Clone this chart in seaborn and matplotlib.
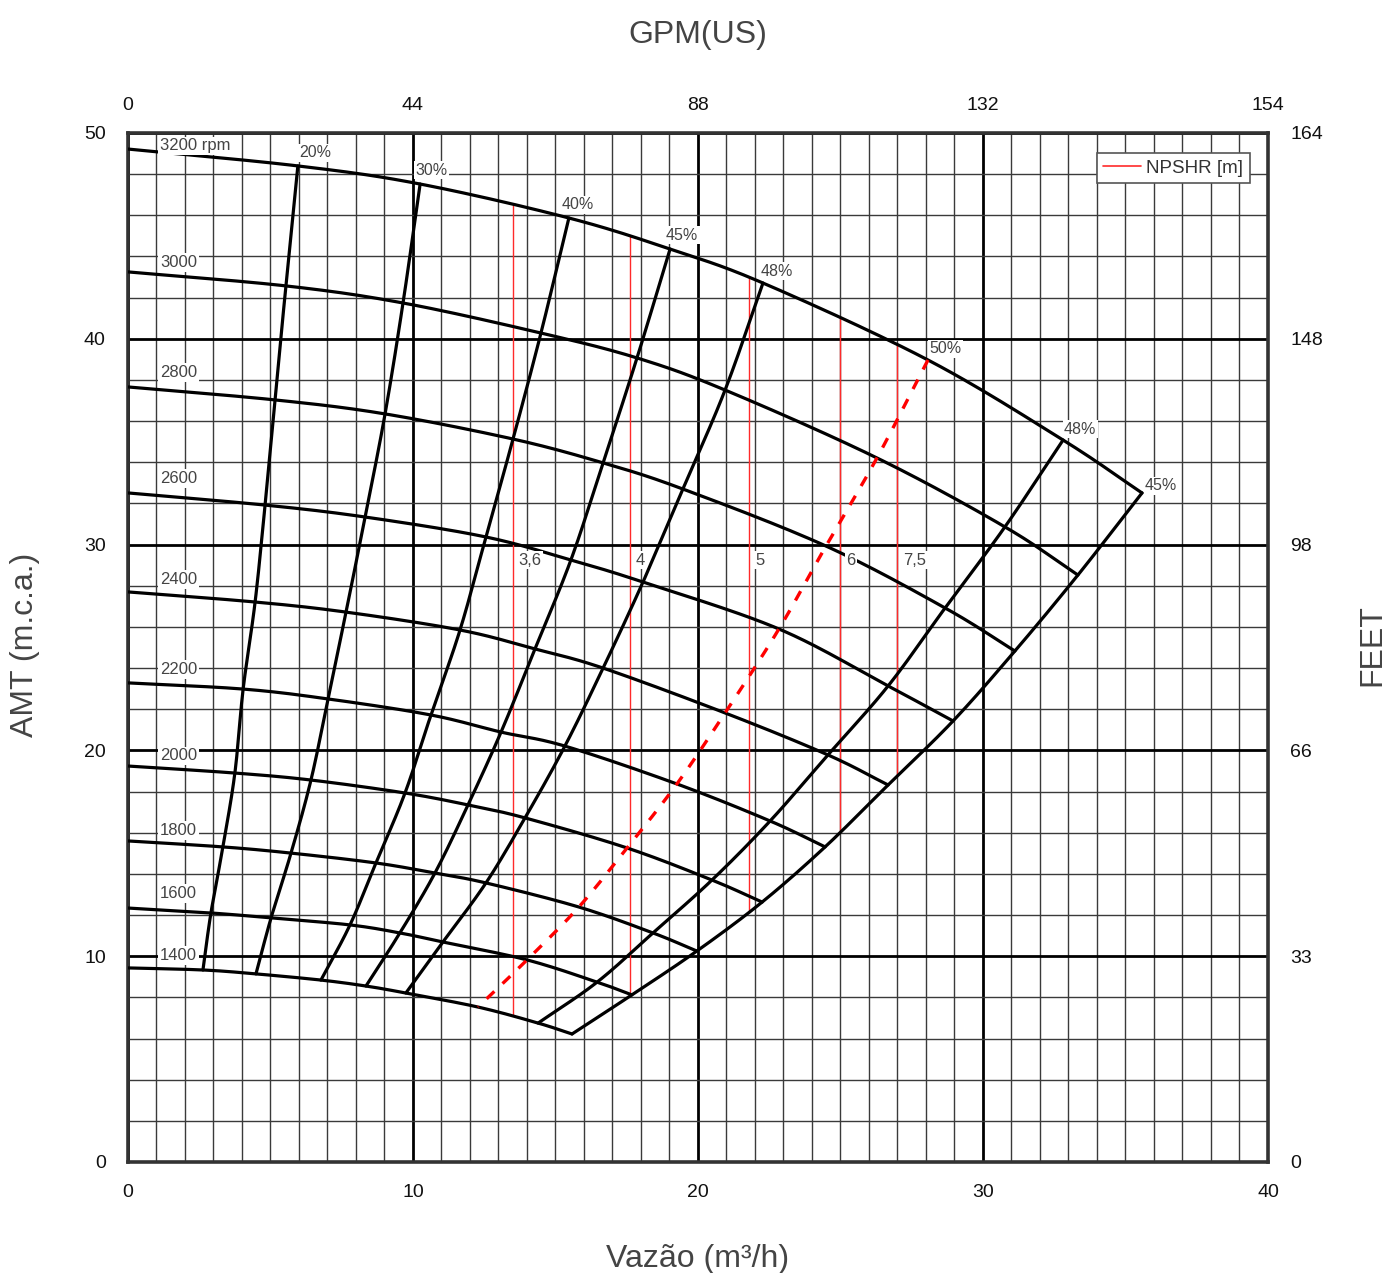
import numpy as np
import pandas as pd
import matplotlib
matplotlib.use("Agg")
import matplotlib.pyplot as plt
from matplotlib.lines import Line2D
from matplotlib.ticker import MultipleLocator
import seaborn as sns

# ---------------- data ----------------
speeds = ["3200 rpm", "3000", "2800", "2600", "2400", "2200", "2000", "1800", "1600", "1400"]

# efficiency lines crossing the speed curves (column 0 = shut-off point)
eff_labels = ["20%", "30%", "40%", "45%", "48%", "50%", "48%", "45%"]

# flow (m3/h) of each speed curve at shut-off and at every efficiency line
flow_pts = [
    [0, 5.96, 10.25, 15.47, 19.02, 22.28, 28.07, 32.81, 35.58],
    [0, 5.54, 9.65, 14.49, 17.86, 20.95, 26.28, 30.77, 33.33],
    [0, 5.16, 9.02, 13.51, 16.67, 19.47, 24.49, 28.67, 31.12],
    [0, 4.81, 8.32, 12.56, 15.54, 18.07, 22.84, 26.67, 28.95],
    [0, 4.46, 7.65, 11.65, 14.28, 16.67, 20.95, 24.56, 26.67],
    [0, 4.04, 7.02, 10.63, 13.09, 15.33, 19.26, 22.53, 24.46],
    [0, 3.75, 6.42, 9.72, 11.93, 13.93, 17.51, 20.49, 22.25],
    [0, 3.33, 5.72, 8.70, 10.77, 12.56, 15.82, 18.42, 19.96],
    [0, 2.91, 5.02, 7.79, 9.54, 11.05, 14.00, 16.46, 17.68],
    [0, 2.63, 4.49, 6.77, 8.35, 9.75, 12.28, 14.39, 15.58],
]
# head (m) at the same points
head_pts = [
    [49.22, 48.40, 47.52, 45.87, 44.36, 42.71, 38.97, 35.08, 32.51],
    [43.25, 42.57, 41.74, 40.28, 39.07, 37.51, 34.21, 30.86, 28.52],
    [37.66, 37.03, 36.35, 35.13, 33.97, 32.70, 29.93, 26.92, 24.83],
    [32.51, 31.92, 31.34, 30.37, 29.25, 28.18, 25.90, 23.13, 21.43],
    [27.70, 27.21, 26.72, 25.85, 24.93, 24.00, 21.82, 19.78, 18.32],
    [23.28, 22.98, 22.50, 21.72, 20.89, 20.21, 18.37, 16.57, 15.31],
    [19.24, 18.90, 18.56, 17.93, 17.35, 16.72, 15.26, 13.70, 12.63],
    [15.60, 15.31, 15.01, 14.53, 14.04, 13.56, 12.39, 11.13, 10.25],
    [12.34, 12.10, 11.86, 11.52, 11.13, 10.69, 9.82, 8.74, 8.12],
    [9.43, 9.33, 9.14, 8.84, 8.55, 8.21, 7.53, 6.75, 6.22],
]

npshr_flow = [13.5, 17.6, 21.8, 25.0, 27.0]
npshr_labels = ["3,6", "4", "5", "6", "7,5"]

x_ticks = [0, 10, 20, 30, 40]
y_ticks = [0, 10, 20, 30, 40, 50]
gpm_labels = ["0", "44", "88", "132", "154"]
feet_labels = ["0", "33", "66", "98", "148", "164"]

# ---------------- helpers ----------------
def smooth(xs, ys, n=24):
    """Catmull-Rom curve through the given points."""
    P = np.column_stack([xs, ys]).astype(float)
    P = np.vstack([2 * P[0] - P[1], P, 2 * P[-1] - P[-2]])
    t = np.linspace(0, 1, n, endpoint=False)[:, None]
    segs = []
    for i in range(1, len(P) - 2):
        p0, p1, p2, p3 = P[i - 1], P[i], P[i + 1], P[i + 2]
        segs.append(0.5 * (2 * p1 + (p2 - p0) * t
                           + (2 * p0 - 5 * p1 + 4 * p2 - p3) * t ** 2
                           + (-p0 + 3 * p1 - 3 * p2 + p3) * t ** 3))
    segs.append(P[-2][None, :])
    return np.vstack(segs)


flow_arr = np.array(flow_pts)
head_arr = np.array(head_pts)

speed_rows = []
speed_curves = {}
for i, name in enumerate(speeds):
    pts = smooth(flow_arr[i], head_arr[i])
    speed_curves[name] = pts
    speed_rows += [(name, q, h) for q, h in pts]
speed_df = pd.DataFrame(speed_rows, columns=["speed", "flow", "head"])

eff_rows = []
eff_curves = []
for j, lab in enumerate(eff_labels, start=1):
    pts = smooth(flow_arr[:, j], head_arr[:, j])
    eff_curves.append(pts)
    eff_rows += [(j, lab, q, h) for q, h in pts]
eff_df = pd.DataFrame(eff_rows, columns=["line", "label", "flow", "head"])

# ---------------- figure ----------------
sns.set_theme(style="white")
plt.rcParams["font.family"] = ["Liberation Sans", "DejaVu Sans"]

fig = plt.figure(figsize=(13.89, 12.73), dpi=100)
ax = fig.add_axes([0.09215, 0.08720, 0.82073, 0.80833])
ax.set_xlim(0, 40)
ax.set_ylim(0, 50)

# grid
ax.set_xticks(x_ticks)
ax.set_yticks(y_ticks)
ax.xaxis.set_minor_locator(MultipleLocator(1))
ax.yaxis.set_minor_locator(MultipleLocator(2))
ax.set_axisbelow(True)
ax.grid(which="minor", color="#3a3a3a", lw=1.0)
ax.grid(which="major", color="black", lw=2.0)
for s in ax.spines.values():
    s.set_linewidth(2.6)
    s.set_color("#333333")
    s.set_visible(True)

# speed curves
sns.lineplot(data=speed_df, x="flow", y="head", units="speed", estimator=None,
             sort=False, color="black", lw=2.3, ax=ax, legend=False, zorder=3)

# efficiency lines (black) and best-efficiency line (red dashed)
black_df = eff_df[eff_df["label"] != "50%"]
sns.lineplot(data=black_df, x="flow", y="head", units="line", estimator=None,
             sort=False, color="black", lw=2.3, ax=ax, legend=False, zorder=3)
red_df = eff_df[eff_df["label"] == "50%"]
sns.lineplot(data=red_df, x="flow", y="head", units="line", estimator=None,
             sort=False, color="#ff0000", lw=2.4, ax=ax, legend=False, zorder=3)
ax.lines[-1].set_linestyle((0, (3.2, 3.4)))

# NPSHR verticals, between the top speed curve and the operating boundary
top = speed_curves[speeds[0]]
low = speed_curves[speeds[-1]]
edge = eff_curves[-1][::-1]
ymax = [np.interp(q, top[:, 0], top[:, 1]) for q in npshr_flow]
ymin = [np.interp(q, low[:, 0], low[:, 1]) if q <= low[-1, 0]
        else np.interp(q, edge[:, 0], edge[:, 1]) for q in npshr_flow]
ax.vlines(npshr_flow, ymin, ymax, color="#ff2a2a", lw=1.0, zorder=2.5)
for q, lab in zip(npshr_flow, npshr_labels):
    ax.text(q + 0.2, 29.25, lab, fontsize=12, color="#444444", ha="left", va="center",
            zorder=6, bbox=dict(fc="white", ec="none", pad=1.2))

# speed labels
speed_label_dy = [0.15, 0.45, 0.7, 0.7, 0.6, 0.65, 0.5, 0.5, 0.7, 0.6]
for i, name in enumerate(speeds):
    ax.text(1.12, head_arr[i, 0] + speed_label_dy[i], name, fontsize=12,
            color="#444444", ha="left", va="center", zorder=6,
            bbox=dict(fc="white", ec="none", pad=1.2))

# efficiency labels at the top end of each line
eff_label_off = [(1, 13), (-5, 14), (-7, 13), (-4, 14), (-2, 12), (1, 11), (1, 11), (3, 7)]
for j, lab in enumerate(eff_labels, start=1):
    ax.annotate(lab, (flow_arr[0, j], head_arr[0, j]), xytext=eff_label_off[j - 1],
                textcoords="offset pixels", fontsize=11.5, color="#444444",
                ha="left", va="center", zorder=6,
                bbox=dict(fc="white", ec="none", pad=1.0))

# legend
leg = ax.legend(handles=[Line2D([], [], color="#ff2a2a", lw=1.2)], labels=["NPSHR [m]"],
                loc="upper right", bbox_to_anchor=(0.9842, 0.9806), borderaxespad=0,
                fontsize=13.5, handlelength=2.0, handletextpad=0.3, borderpad=0.35,
                fancybox=False, framealpha=1)
leg.get_frame().set_edgecolor("#555555")
leg.get_frame().set_linewidth(1.2)
for t in leg.get_texts():
    t.set_color("#333333")
leg.set_zorder(7)

# tick labels
ax.tick_params(which="both", length=0)
ax.tick_params(axis="x", labelsize=14, pad=15.5, labelcolor="#111111")
ax.tick_params(axis="y", labelsize=14, pad=16, labelcolor="#111111")

axt = ax.twiny()
axt.set_xlim(0, 40)
axt.set_xticks(x_ticks)
axt.set_xticklabels(gpm_labels)
axt.tick_params(length=0, labelsize=14, pad=13.5, labelcolor="#111111")

axr = ax.twinx()
axr.set_ylim(0, 50)
axr.set_yticks(y_ticks)
axr.set_yticklabels(feet_labels)
axr.tick_params(length=0, labelsize=14, pad=16, labelcolor="#111111")
for a in (axt, axr):
    for s in a.spines.values():
        s.set_visible(False)
    a.grid(False)

# axis titles
title_kw = dict(fontsize=23, color="#444444")
ax.set_xlabel("Vazão (m³/h)", **title_kw)
ax.xaxis.set_label_coords(0.5, -0.0944)
ax.xaxis.label.set_va("center")
axt.set_xlabel("GPM(US)", **title_kw)
axt.xaxis.set_label_coords(0.5, 1.0952)
axt.xaxis.label.set_va("center")
ax.set_ylabel("AMT (m.c.a.)", **title_kw)
ax.yaxis.set_label_coords(-0.0904, 0.5024)
ax.yaxis.label.set_va("center")
axr.set_ylabel("FEET", **title_kw)
axr.yaxis.set_label_coords(1.0912, 0.5024)
axr.yaxis.label.set_va("center")

fig.savefig("out.png", dpi=100, facecolor="white")
